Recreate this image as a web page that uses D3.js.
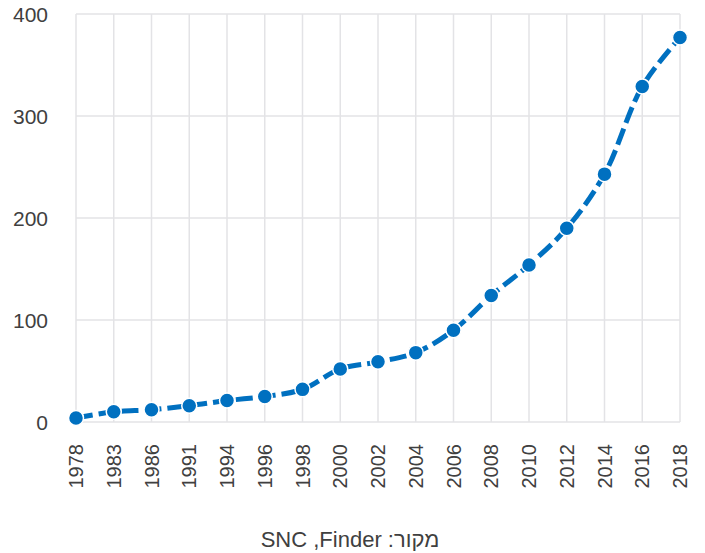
<!DOCTYPE html>
<html>
<head>
<meta charset="utf-8">
<script src="https://cdn.jsdelivr.net/npm/d3@7"></script>
<style>
  body { margin: 0; background: #fff; }
  text { font-family: "Liberation Sans", Arial, sans-serif; fill: #404040; }
</style>
</head>
<body>
<script>
var years = ["1978", "1983", "1986", "1991", "1994", "1996", "1998", "2000", "2002",
             "2004", "2006", "2008", "2010", "2012", "2014", "2016", "2018"];
var values = [4, 10, 12, 16, 21, 25, 32, 52, 59, 68, 90, 124, 154, 190, 243, 329, 377];
var yTicks = [0, 100, 200, 300, 400];
var sourceText = "SNC ,Finder :מקור";

var width = 705,
    height = 553;
var plotLeft = 76, plotRight = 680, plotTop = 14, plotBottom = 422;

var svg = d3.select("body").append("svg")
    .attr("width", width)
    .attr("height", height);

var x = d3.scalePoint()
    .domain(years)
    .range([plotLeft, plotRight]);

var y = d3.scaleLinear()
    .domain([0, 400])
    .range([plotBottom, plotTop]);

// horizontal gridlines
svg.append("g")
    .selectAll("line")
    .data(yTicks)
    .enter().append("line")
    .attr("x1", plotLeft)
    .attr("x2", plotRight)
    .attr("y1", function (d) { return y(d); })
    .attr("y2", function (d) { return y(d); })
    .style("stroke", "#e3e3e6")
    .style("stroke-width", "1.5px");

// vertical gridlines, one per category
svg.append("g")
    .selectAll("line")
    .data(years)
    .enter().append("line")
    .attr("x1", function (d) { return x(d); })
    .attr("x2", function (d) { return x(d); })
    .attr("y1", plotTop)
    .attr("y2", plotBottom)
    .style("stroke", "#e3e3e6")
    .style("stroke-width", "1.5px");

// y labels
svg.append("g")
    .selectAll("text")
    .data(yTicks)
    .enter().append("text")
    .attr("x", 48)
    .attr("y", function (d) { return y(d); })
    .attr("dy", "0.36em")
    .attr("text-anchor", "end")
    .style("font-size", "21px")
    .text(function (d) { return d; });

// x labels, rotated
svg.append("g")
    .selectAll("text")
    .data(years)
    .enter().append("text")
    .attr("transform", function (d) {
        return "translate(" + (x(d) + 7) + "," + 444 + ") rotate(-90)";
    })
    .attr("text-anchor", "end")
    .style("font-size", "20px")
    .text(function (d) { return d; });

// the dashed smooth line
var line = d3.line()
    .x(function (d, i) { return x(years[i]); })
    .y(function (d) { return y(d); })
    .curve(d3.curveCatmullRom.alpha(0.5));

svg.append("path")
    .datum(values)
    .attr("d", line)
    .style("fill", "none")
    .style("stroke", "#0070c0")
    .style("stroke-width", "5px")
    .style("stroke-dasharray", "17,6");

// markers
svg.append("g")
    .selectAll("circle")
    .data(values)
    .enter().append("circle")
    .attr("cx", function (d, i) { return x(years[i]); })
    .attr("cy", function (d) { return y(d); })
    .attr("r", 7.5)
    .style("fill", "#0070c0")
    .style("stroke", "#fff")
    .style("stroke-width", "1.5px");

// source line
svg.append("text")
    .attr("x", 350)
    .attr("y", 547)
    .attr("text-anchor", "middle")
    .style("font-size", "22px")
    .text(sourceText);
</script>
</body>
</html>
